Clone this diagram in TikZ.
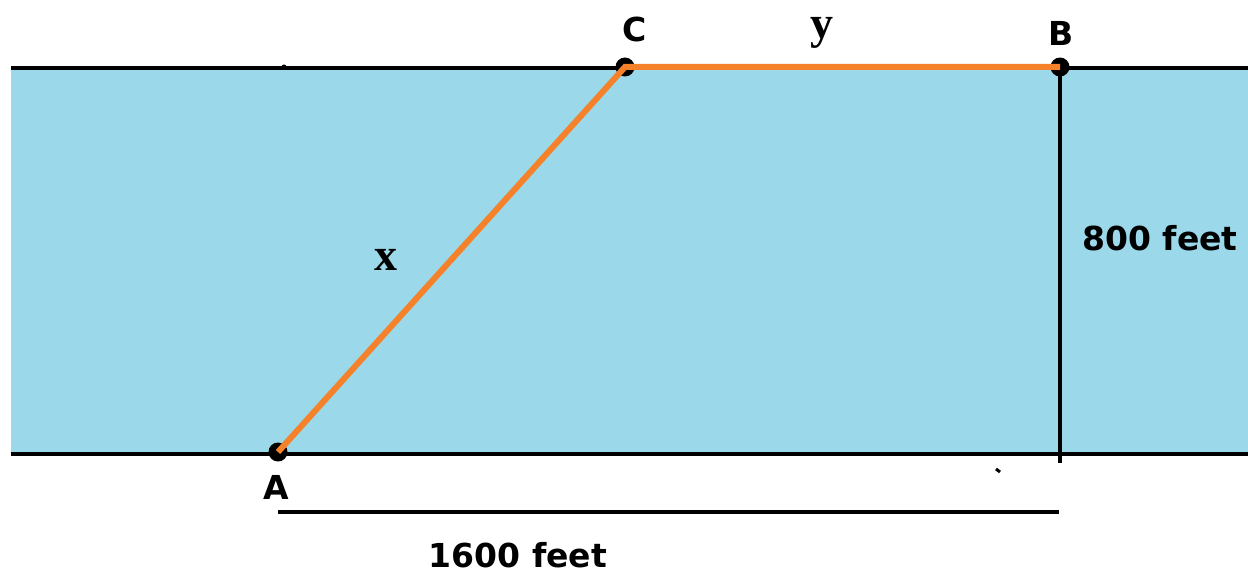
\documentclass[tikz,border=0pt]{standalone}
\usepackage{fontspec}
\newfontfamily\lblfont{DejaVu Sans}[BoldFont={DejaVu Sans Bold}]
\newfontfamily\varfont{Liberation Serif}
\definecolor{water}{HTML}{9BD8E9}
\definecolor{path}{HTML}{F5822A}
\begin{document}
\begin{tikzpicture}[x=1pt,y=-1pt,
  edge/.style={line width=4.5pt},
  route/.style={line width=6pt,path},
  pt/.style={circle,fill=black,inner sep=0pt,minimum size=19pt},
  lbl/.style={font=\lblfont\bfseries\fontsize{33}{38}\selectfont,inner sep=0pt},
  var/.style={font=\varfont\bfseries\fontsize{46}{50}\selectfont,inner sep=0pt}]
\useasboundingbox (0,0) rectangle (1248,575);
\fill[water] (11,68) rectangle (1248,454);
\coordinate (TL) at (11,68);
\coordinate (TR) at (1248,68);
\coordinate (BL) at (11,454);
\coordinate (BR) at (1248,454);
\draw[edge] (TL) -- (TR);
\draw[edge] (BL) -- (BR);
\node[pt] (A) at (278,452) {};
\node[pt] (C) at (625,67) {};
\node[pt] (B) at (1060,67) {};
\coordinate (Bfoot) at (1060,463);
\draw[edge] (B.center) -- (Bfoot);
\draw[route] (A.center) -- (C.center) -- (B.center);
\coordinate (D1) at (278,512);
\coordinate (D2) at (1059,512);
\draw[edge] (D1) -- (D2);
\fill (284,67) circle (2.5pt);
\draw[line width=3pt] (996,469) -- (1000,472);
\node[lbl] (lA) at (276,487) {A};
\node[lbl] (lC) at (635,29) {C};
\node[lbl] (lB) at (1061,33) {B};
\node[lbl] (l800) at (1160,238) {800 feet};
\node[lbl] (l1600) at (518,555) {1600 feet};
\node[var] (lx) at (386,260) {x};
\node[var] (ly) at (822,33) {y};
\end{tikzpicture}
\end{document}
